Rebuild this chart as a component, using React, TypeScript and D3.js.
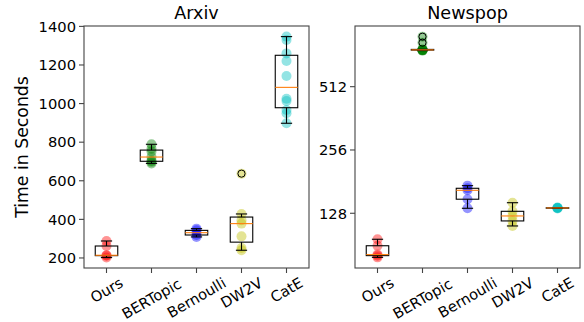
import React from 'react';
import * as d3 from 'd3';

const categories = ['Ours', 'BERTopic', 'Bernoulli', 'DW2V', 'CatE'];
const dotColors = ['#ff0000', '#008000', '#0000ff', '#bfbf00', '#00bfbf'];

// Arxiv run times, seconds
const arxivOurs = [202, 212, 214, 262, 288];
const arxivBERTopic = [690, 698, 704, 723, 752, 766, 789];
const arxivBernoulli = [309, 319, 331, 343, 352];
const arxivDW2V = [240, 252, 312, 378, 396, 428, 637];
const arxivCatE = [898, 950, 967, 1013, 1025, 1143, 1221, 1260, 1330, 1347];

// Newspop run times, seconds
const newsOurs = [79, 80.5, 81.4, 89.7, 96.3];
const newsBERTopic = [760, 762, 764, 765, 766, 768, 770, 829, 885];
const newsBernoulli = [135.2, 149.3, 164.6, 168.3, 173.2];
const newsDW2V = [111.4, 117.7, 124.3, 130.8, 143.7];
const newsCatE = [135, 135.5, 135.7, 136, 136.3];

const arxivTicks = [200, 400, 600, 800, 1000, 1200, 1400];
const newsTicks = [128, 256, 512];

const FONT = 'DejaVu Sans, sans-serif';
const TICK_FS = 14.7;

// rough DejaVu Sans advance widths (em) for the label letters
const charW: Record<string, number> = {
  O: 0.787, u: 0.634, r: 0.411, s: 0.521, B: 0.686, E: 0.632, R: 0.695, T: 0.611,
  o: 0.612, p: 0.635, i: 0.278, c: 0.55, e: 0.615, n: 0.634, l: 0.278, D: 0.77,
  W: 0.989, '2': 0.636, V: 0.684, C: 0.698, a: 0.613, t: 0.392,
};
const textWidth = (s: string, fs: number) =>
  s.split('').reduce((acc, ch) => acc + (charW[ch] ?? 0.6), 0) * fs;

function boxStats(values: number[]) {
  const s = [...values].sort(d3.ascending);
  const q1 = d3.quantileSorted(s, 0.25)!;
  const med = d3.quantileSorted(s, 0.5)!;
  const q3 = d3.quantileSorted(s, 0.75)!;
  const iqr = q3 - q1;
  const lo = q1 - 1.5 * iqr;
  const hi = q3 + 1.5 * iqr;
  const inside = s.filter(v => v >= lo && v <= hi);
  return {
    q1, med, q3,
    wLo: d3.min(inside)!, wHi: d3.max(inside)!,
    fliers: s.filter(v => v < lo || v > hi),
  };
}

type PanelProps = {
  title: string;
  series: number[][];
  y: any;
  ticks: number[];
  x0: number;
  x1: number;
  top: number;
  bottom: number;
};

const Panel = ({ title, series, y, ticks, x0, x1, top, bottom }: PanelProps) => {
  const x = d3.scaleBand().domain(categories).range([x0, x1]).padding(0);
  const bw = x.bandwidth();
  const cx = (c: string) => x(c)! + bw / 2;
  const boxW = bw * 0.5;
  const capW = bw * 0.25;

  return (
    <g>
      <text x={(x0 + x1) / 2} y={19} textAnchor="middle" fontSize={17.6} fontFamily={FONT}>{title}</text>

      {series.map((vals, i) => (
        <g key={'dots' + i}>
          {vals.map((v, j) => (
            <circle key={j} cx={cx(categories[i])} cy={y(v)} r={5} fill={dotColors[i]} fillOpacity={0.42} />
          ))}
        </g>
      ))}

      {series.map((vals, i) => {
        const st = boxStats(vals);
        const c = cx(categories[i]);
        return (
          <g key={'box' + i} stroke="#000" strokeWidth={1.1} fill="none">
            <rect x={c - boxW / 2} y={y(st.q3)} width={boxW} height={Math.max(0.5, y(st.q1) - y(st.q3))} />
            <line x1={c} x2={c} y1={y(st.q3)} y2={y(st.wHi)} />
            <line x1={c} x2={c} y1={y(st.q1)} y2={y(st.wLo)} />
            <line x1={c - capW / 2} x2={c + capW / 2} y1={y(st.wHi)} y2={y(st.wHi)} />
            <line x1={c - capW / 2} x2={c + capW / 2} y1={y(st.wLo)} y2={y(st.wLo)} />
            <line x1={c - boxW / 2} x2={c + boxW / 2} y1={y(st.med)} y2={y(st.med)} stroke="#ff7f0e" />
            {st.fliers.map((f, k) => (
              <circle key={k} cx={c} cy={y(f)} r={3.6} stroke="#000" strokeWidth={1} fill="none" />
            ))}
          </g>
        );
      })}

      <rect x={x0} y={top} width={x1 - x0} height={bottom - top} fill="none" stroke="#444" strokeWidth={1.1} />

      {ticks.map(t => (
        <g key={'yt' + t}>
          <line x1={x0 - 5} x2={x0} y1={y(t)} y2={y(t)} stroke="#444" strokeWidth={1.1} />
          <text x={x0 - 8} y={y(t)} dy="0.36em" textAnchor="end" fontSize={TICK_FS} fontFamily={FONT}>{t}</text>
        </g>
      ))}

      {categories.map(c => {
        const w = textWidth(c, TICK_FS);
        const cy = bottom + 7 + (w * 0.5 + TICK_FS * 0.866) / 2;
        return (
          <g key={'xt' + c}>
            <line x1={cx(c)} x2={cx(c)} y1={bottom} y2={bottom + 5} stroke="#444" strokeWidth={1.1} />
            <text x={cx(c)} y={cy} dy="0.36em" textAnchor="middle" fontSize={TICK_FS} fontFamily={FONT}
              transform={`rotate(-30, ${cx(c)}, ${cy})`}>{c}</text>
          </g>
        );
      })}
    </g>
  );
};

export default function App() {
  const top = 26;
  const bottom = 268;
  const yArxiv = d3.scaleLinear().domain([148, 1402]).range([bottom, top]);
  const yNews = d3.scaleLog().base(2).domain([70.3, 995]).range([bottom, top]);

  return (
    <svg width={584} height={322} style={{ position: 'absolute', left: 0, top: 0, background: '#fff' }}>
      <text transform={`translate(28, ${(top + bottom) / 2}) rotate(-90)`} textAnchor="middle"
        fontSize={17.3} fontFamily={FONT}>Time in Seconds</text>
      <Panel title="Arxiv" series={[arxivOurs, arxivBERTopic, arxivBernoulli, arxivDW2V, arxivCatE]}
        y={yArxiv} ticks={arxivTicks} x0={84} x1={309} top={top} bottom={bottom} />
      <Panel title="Newspop" series={[newsOurs, newsBERTopic, newsBernoulli, newsDW2V, newsCatE]}
        y={yNews} ticks={newsTicks} x0={355} x1={580} top={top} bottom={bottom} />
    </svg>
  );
}
